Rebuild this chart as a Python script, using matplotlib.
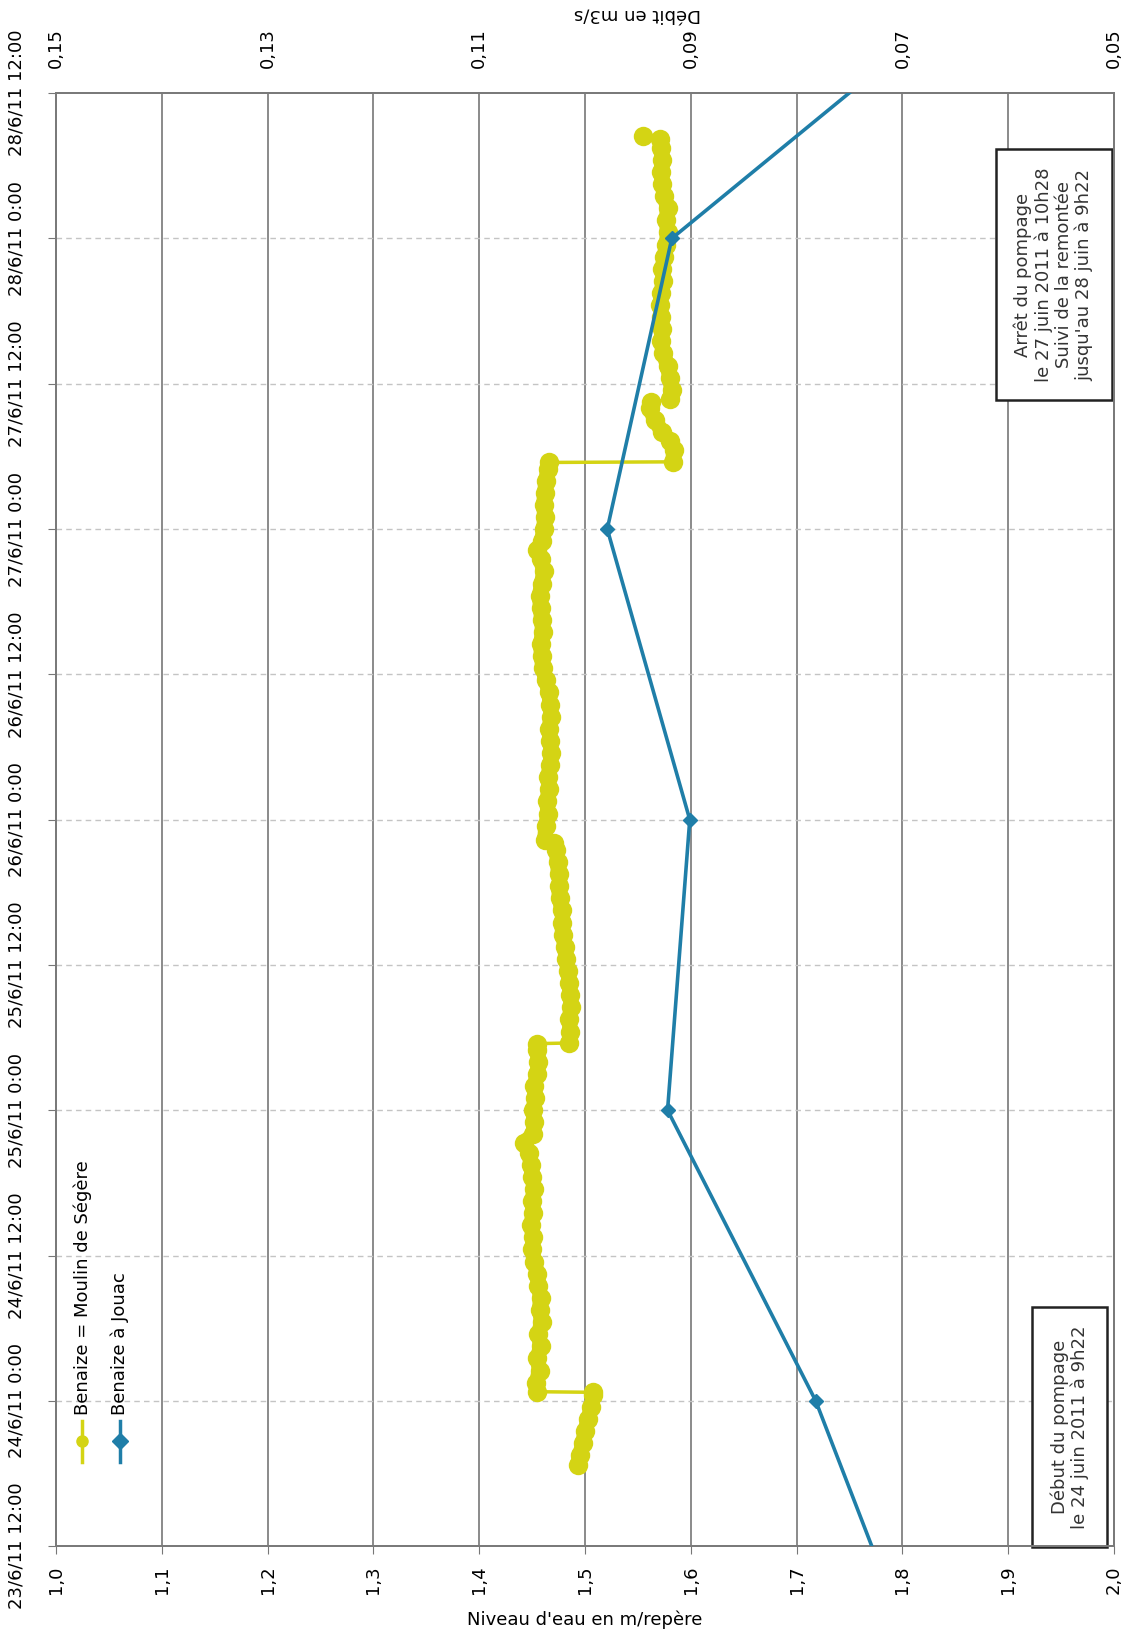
import matplotlib

matplotlib.use("Agg")
import matplotlib.pyplot as plt

plt.rcParams["font.family"] = ["Liberation Sans Narrow", "DejaVu Sans"]

# time axis: hours since 23/6/11 12:00, one tick every 12 h
time_ticks = [0, 12, 24, 36, 48, 60, 72, 84, 96, 108, 120]
time_labels = ["23/6/11 12:00", "24/6/11 0:00", "24/6/11 12:00", "25/6/11 0:00",
               "25/6/11 12:00", "26/6/11 0:00", "26/6/11 12:00", "27/6/11 0:00",
               "27/6/11 12:00", "28/6/11 0:00", "28/6/11 12:00"]

level_ticks = [1.0, 1.1, 1.2, 1.3, 1.4, 1.5, 1.6, 1.7, 1.8, 1.9, 2.0]
flow_ticks = [0.15, 0.13, 0.11, 0.09, 0.07, 0.05]

# Benaize = Moulin de Ségère (water level, m/repère)
segere_hours = [6.7, 7.5, 8.5, 9.5, 10.5, 11.5, 12.5, 12.7, 12.75, 13.5, 14.5, 15.5, 16.5,
                17.5, 18.5, 19.5, 20.5, 21.5, 22.5, 23.5, 24.5, 25.5, 26.5, 27.5, 28.5,
                29.5, 30.5, 31.5, 32.5, 33.3, 34, 35, 36, 37, 38, 39, 40, 41, 41.5, 41.55,
                42.5, 43.5, 44.5, 45.5, 46.5, 47.5, 48.5, 49.5, 50.5, 51.5, 52.5, 53.5,
                54.5, 55.5, 56.5, 57.5, 58.1, 58.3, 59.5, 60.5, 61.5, 62.5, 63.5, 64.5,
                65.5, 66.5, 67.5, 68.5, 69.5, 70.5, 71.5, 72.5, 73.5, 74.5, 75.5, 76.5,
                77.5, 78.5, 79.5, 80.5, 81.5, 82.3, 83, 84, 85, 86, 87, 88, 89, 89.5,
                89.55, 90.5, 91.3, 92, 93, 94, 94.5, 94.7, 95.5, 96.5, 97.5, 98.5, 99.5,
                100.5, 101.5, 102.5, 103.5, 104.5, 105.5, 106.5, 107.5, 108.5, 109.5,
                110.5, 111.5, 112.5, 113.5, 114.5, 115.5, 116.2, 116.5]
segere_level = [1.493, 1.495, 1.498, 1.500, 1.503, 1.506, 1.508, 1.508, 1.455, 1.454, 1.457,
                1.455, 1.458, 1.456, 1.459, 1.457, 1.458, 1.456, 1.455, 1.452, 1.450, 1.451,
                1.449, 1.451, 1.450, 1.452, 1.450, 1.449, 1.447, 1.442, 1.451, 1.452, 1.451,
                1.453, 1.452, 1.455, 1.456, 1.455, 1.455, 1.485, 1.486, 1.485, 1.487, 1.486,
                1.485, 1.484, 1.482, 1.481, 1.479, 1.478, 1.478, 1.476, 1.475, 1.475, 1.474,
                1.473, 1.471, 1.462, 1.463, 1.465, 1.464, 1.466, 1.465, 1.467, 1.468, 1.467,
                1.466, 1.468, 1.467, 1.466, 1.463, 1.460, 1.459, 1.458, 1.460, 1.459, 1.458,
                1.457, 1.459, 1.461, 1.458, 1.455, 1.459, 1.461, 1.462, 1.461, 1.462, 1.463,
                1.465, 1.466, 1.583, 1.584, 1.580, 1.573, 1.566, 1.561, 1.562, 1.580, 1.582,
                1.580, 1.578, 1.574, 1.572, 1.573, 1.572, 1.571, 1.572, 1.574, 1.573, 1.575,
                1.577, 1.578, 1.577, 1.578, 1.575, 1.573, 1.572, 1.573, 1.572, 1.571, 1.555]

# Benaize à Jouac (daily flow, m3/s)
jouac_hours = [-12, 12, 36, 60, 84, 108, 132]
jouac_flow = [0.0676, 0.0782, 0.0922, 0.0901, 0.0979, 0.0918, 0.0583]

yellow = "#d4d414"
blue = "#1f7ea8"

fig = plt.figure(figsize=(11.34, 16.46), dpi=100)
ax = fig.add_axes([0.0494, 0.0607, 0.933, 0.8827])
ax2 = ax.twiny()

ax.plot(segere_level, segere_hours, color=yellow, linewidth=2.5, zorder=3)
ax.plot(segere_level, segere_hours, color=yellow, linewidth=10, solid_capstyle="round",
        solid_joinstyle="round", marker="o", markersize=14, markeredgewidth=0, zorder=3,
        linestyle="none")
# dense band between neighbouring points that are close in level
for i in range(len(segere_hours) - 1):
    if abs(segere_level[i + 1] - segere_level[i]) < 0.01:
        ax.plot(segere_level[i:i + 2], segere_hours[i:i + 2], color=yellow, linewidth=11,
                solid_capstyle="round", zorder=3)
ax2.plot(jouac_flow, jouac_hours, color=blue, linewidth=2.6, marker="D",
         markersize=7, zorder=4)

ax.set_xlim(1.0, 2.0)
ax.set_ylim(0, 120)
ax2.set_xlim(0.15, 0.05)

ax.set_xticks(level_ticks)
ax.set_xticklabels([f"{v:.1f}".replace(".", ",") for v in level_ticks],
                   rotation=90, fontsize=13)
ax.set_yticks(time_ticks)
ax.set_yticklabels(time_labels, rotation=90, va="center", fontsize=13)
ax2.set_xticks(flow_ticks)
ax2.set_xticklabels([f"{v:.2f}".replace(".", ",") for v in flow_ticks],
                    rotation=90, fontsize=13)

ax.tick_params(axis="x", length=6, pad=8, color="#777777")
ax.tick_params(axis="y", length=6, pad=16, color="#777777")
ax2.tick_params(axis="x", length=0, pad=18)

for v in level_ticks[1:-1]:
    ax.axvline(v, color="#8a8a8a", linewidth=1.4, zorder=1)
for t in time_ticks[1:-1]:
    ax.axhline(t, color="#c4c4c4", linewidth=1.0, linestyle=(0, (4, 3)), zorder=1)

for a in (ax, ax2):
    for s in a.spines.values():
        s.set_color("#7a7a7a")
        s.set_linewidth(1.4)

ax.set_xlabel("Niveau d'eau en m/repère", fontsize=13, labelpad=12)
fig.text(0.562, 0.992, "Débit en m3/s", rotation=180, ha="center", va="center", fontsize=13)

# hand-made legend, rotated like the rest of the chart
leg = [("Benaize = Moulin de Ségère", yellow, "o", 0.025),
       ("Benaize à Jouac", blue, "D", 0.060)]
for name, col, mk, xa in leg:
    ax.plot([xa, xa], [0.058, 0.086], color=col, linewidth=2.5, transform=ax.transAxes,
            clip_on=False, zorder=5)
    ax.plot([xa], [0.072], color=col, marker=mk, markersize=8, transform=ax.transAxes,
            zorder=5)
    ax.text(xa, 0.090, name, rotation=90, ha="center", va="bottom", fontsize=13,
            transform=ax.transAxes)

box = dict(boxstyle="square,pad=1.0", facecolor="white", edgecolor="#222222", linewidth=1.8)
ax.text(0.943, 0.875, "Arrêt du pompage\nle 27 juin 2011 à 10h28\nSuivi de la remontée\n"
        "jusqu'au 28 juin à 9h22", rotation=90, ha="center", va="center", fontsize=13,
        linespacing=1.15, color="#333333", bbox=box, transform=ax.transAxes, zorder=6)
ax.text(0.958, 0.082, "Début du pompage\nle 24 juin 2011 à 9h22", rotation=90,
        ha="center", va="center", fontsize=13, linespacing=1.15, color="#333333",
        bbox=box, transform=ax.transAxes, zorder=6)

fig.savefig("out.png", dpi=100)
plt.close(fig)
